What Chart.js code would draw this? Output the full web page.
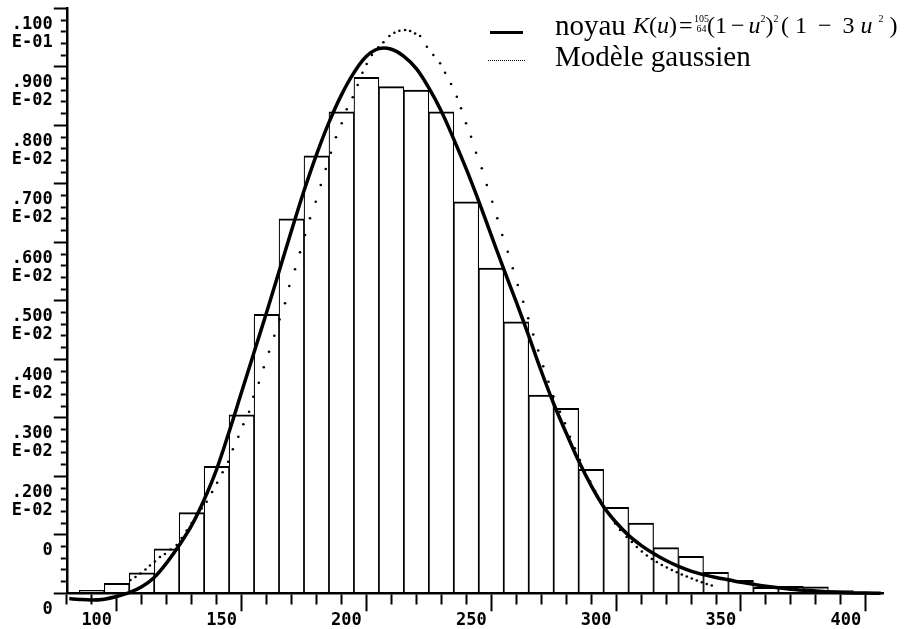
<!DOCTYPE html>
<html>
<head>
<meta charset="utf-8">
<script src="https://cdn.jsdelivr.net/npm/chart.js@4.4.1/dist/chart.umd.min.js"></script>
<style>
  body { margin: 0; background: #fff; }
  #wrap { position: relative; width: 913px; height: 629px; }
  .key { position: absolute; font-family: "Liberation Serif", "Times New Roman", serif; color: #000; white-space: nowrap; }
  .swatch { position: absolute; }
  .solid { left: 490px; top: 31px; width: 33px; height: 3px; background: #000; }
  .dotted { left: 488px; top: 60px; width: 37px; height: 0; border-top: 1.5px dotted #000; }
  #kernelKey { left: 555px; top: 11px; font-size: 29px; line-height: 29px; }
  #gaussKey { left: 555px; top: 42px; font-size: 29px; line-height: 29px; }
  .formula { top: 13px; font-size: 24px; line-height: 24px; }
  .formula sup { font-size: 10px; line-height: 0; vertical-align: 11px; }
  .formula .op { margin: 0 4px; }
  .formula.wide { letter-spacing: 6px; }
  .formula.wide .op { margin: 0 5px; }
  .frac { position: absolute; left: 694px; top: 14px; font-family: "Liberation Serif", serif; font-size: 10px; line-height: 10px; text-align: center; }
  .frac span { display: block; }
</style>
</head>
<body>
<div id="wrap">
  <canvas id="densityChart" width="913" height="629"></canvas>
  <div class="swatch solid"></div>
  <div class="key" id="kernelKey">noyau</div>
  <div class="key formula" style="left: 633px;"><i>K</i>(<i>u</i>)</div>
  <div class="key formula" style="left: 679px;">=</div>
  <div class="frac"><span>105</span><span>64</span></div>
  <div class="key formula" style="left: 707px;">(1<span class="op">−</span><i>u</i><sup>2</sup>)<sup>2</sup></div>
  <div class="key formula wide" style="left: 781px;">(1<span class="op">−</span>3<i>u</i><sup>2</sup>)</div>
  <div class="swatch dotted"></div>
  <div class="key" id="gaussKey">Modèle gaussien</div>
</div>
<script>
// histogram: bins of width 10 centred on these values
const binCenters = [90, 100, 110, 120, 130, 140, 150, 160, 170, 180, 190, 200, 210, 220, 230, 240,
                    250, 260, 270, 280, 290, 300, 310, 320, 330, 340, 350, 360, 370, 380, 390, 400];
const binDensity = [0.00005, 0.00017, 0.00035, 0.00076, 0.00138, 0.00217, 0.00305, 0.00477,
                    0.00640, 0.00748, 0.00823, 0.00882, 0.00866, 0.00860, 0.00823, 0.00669,
                    0.00556, 0.00464, 0.00339, 0.00316, 0.00212, 0.00147, 0.00120, 0.00078,
                    0.00063, 0.00036, 0.00022, 0.00010, 0.00012, 0.00011, 0.000045, 0.00002];

// kernel density estimate (solid curve)
const kernelX = [81, 85, 90, 95, 100, 105, 110, 115, 120, 125, 130, 135, 140, 145, 150, 155, 160,
                 165, 170, 175, 180, 185, 190, 195, 200, 205, 210, 215, 220, 225, 230, 235, 240,
                 245, 250, 255, 260, 265, 270, 275, 280, 285, 290, 295, 300, 305, 310, 315, 320,
                 325, 330, 335, 340, 345, 350, 360, 370, 380, 390, 400, 406];
const kernelY = [-0.00009, -0.000105, -0.000115, -0.00010, -0.000055, 0.00001, 0.00011, 0.00027,
                 0.00052, 0.00082, 0.00116, 0.00160, 0.00212, 0.00276, 0.00344, 0.00412, 0.00480,
                 0.00550, 0.00620, 0.00688, 0.00750, 0.00805, 0.00852, 0.00890, 0.00918, 0.00931,
                 0.00930, 0.00918, 0.00897, 0.00864, 0.00824, 0.00776, 0.00725, 0.00670, 0.00612,
                 0.00554, 0.00498, 0.00440, 0.00380, 0.00324, 0.00274, 0.00226, 0.00184, 0.00148,
                 0.00121, 0.00099, 0.00082, 0.00068, 0.00056, 0.00046, 0.00038, 0.00032, 0.00027,
                 0.00023, 0.00019, 0.00012, 0.00007, 0.00004, 0.000015, 0.000003, 0.0];

// gaussian model, plotted as separate dots
const gaussX = [105.5, 107.5, 109.5, 111.5, 113.3, 115.3, 117.3, 119.3, 121.6, 124.0, 126.0, 128.0,
                130.0, 132.0, 134.0, 136.0, 138.2, 140.2, 142.4, 144.6, 146.5, 148.7, 150.7, 153.0,
                154.7, 156.9, 158.9, 161.0, 163.1, 165.2, 167.4, 169.1, 171.4, 173.4, 175.4, 177.4,
                179.7, 181.7, 183.7, 185.8, 187.8, 190.1, 192.1, 194.5, 196.5, 198.4, 200.1, 202.2,
                204.8, 206.8, 209.2, 211.2, 213.2, 215.5, 217.5, 219.5, 221.5, 224.2, 226.8, 229.5,
                231.5, 233.9, 236.2, 237.9, 239.9, 241.9, 243.9, 246.2, 248.2, 250.4, 252.4, 254.4,
                256.6, 258.6, 260.6, 262.8, 264.8, 266.8, 268.8, 270.8, 272.9, 274.9, 277.5, 279.5,
                281.5, 283.5, 285.5, 287.5, 289.6, 291.6, 293.6, 295.6, 297.6, 299.6, 301.6, 304.2,
                306.3, 308.3, 310.3, 312.3, 314.3, 316.3, 318.3, 320.3, 322.3, 324.3, 326.3, 328.3,
                330.3, 332.3, 334.3, 336.3, 338.3];
const gaussY = [0.000227, 0.000279, 0.000339, 0.000407, 0.000475, 0.000544, 0.000621, 0.000672,
                0.000749, 0.000826, 0.000945, 0.001074, 0.001202, 0.001339, 0.001450, 0.001566,
                0.001732, 0.001891, 0.002068, 0.002250, 0.002462, 0.002677, 0.002889, 0.003104,
                0.003361, 0.003600, 0.003863, 0.004130, 0.004403, 0.004680, 0.004957, 0.005253,
                0.005539, 0.005829, 0.006125, 0.006410, 0.006694, 0.006980, 0.007253, 0.007532,
                0.007795, 0.008034, 0.008274, 0.008479, 0.008689, 0.008899, 0.009048, 0.009202,
                0.009333, 0.009419, 0.009527, 0.009583, 0.009617, 0.009629, 0.009612, 0.009569,
                0.009527, 0.009344, 0.009202, 0.009060, 0.008899, 0.008706, 0.008489, 0.008291,
                0.008034, 0.007805, 0.007532, 0.007265, 0.006980, 0.006694, 0.006410, 0.006125,
                0.005839, 0.005556, 0.005270, 0.004985, 0.004701, 0.004424, 0.004150, 0.003880,
                0.003617, 0.003364, 0.003104, 0.002906, 0.002677, 0.002479, 0.002279, 0.002091,
                0.001911, 0.001749, 0.001595, 0.001450, 0.001321, 0.001193, 0.001082, 0.000962,
                0.000877, 0.000792, 0.000715, 0.000646, 0.000586, 0.000535, 0.000484, 0.000441,
                0.000398, 0.000359, 0.000321, 0.000287, 0.000253, 0.000219, 0.000188, 0.000159,
                0.000133];

// axis labels
const xTickValues = [100, 150, 200, 250, 300, 350, 400];
const yTickLabels = [
  ['0', ''], ['0', ''], ['.200', 'E-02'], ['.300', 'E-02'], ['.400', 'E-02'], ['.500', 'E-02'],
  ['.600', 'E-02'], ['.700', 'E-02'], ['.800', 'E-02'], ['.900', 'E-02'], ['.100', 'E-01']
];

const toPoints = (xs, ys) => xs.map((x, i) => ({ x: x, y: ys[i] }));
const isMajorX = v => xTickValues.includes(v);
const isMajorY = v => Math.round(v * 10000) % 10 === 0;
const noScalePadding = s => { s.paddingTop = 0; s.paddingBottom = 0; s.paddingLeft = 0; s.paddingRight = 0; };

const ctx = document.getElementById('densityChart').getContext('2d');
new Chart(ctx, {
  type: 'bar',
  data: {
    datasets: [{
      type: 'line',
      label: 'noyau',
      data: toPoints(kernelX, kernelY),
      borderColor: '#000',
      borderWidth: 3.5,
      pointRadius: 0,
      tension: 0.35,
      clip: false,
      order: 0
    }, {
      type: 'line',
      label: 'Modèle gaussien',
      data: toPoints(gaussX, gaussY),
      showLine: false,
      pointRadius: 1.3,
      pointBorderWidth: 0,
      pointBackgroundColor: '#000',
      order: 1
    }, {
      type: 'bar',
      label: 'histogramme',
      data: toPoints(binCenters, binDensity),
      backgroundColor: '#fff',
      borderColor: '#000',
      borderWidth: { top: 2, left: 1.2, right: 1.2, bottom: 0 },
      borderSkipped: false,
      barPercentage: 1,
      categoryPercentage: 1,
      order: 2
    }]
  },
  options: {
    responsive: false,
    animation: false,
    devicePixelRatio: 1,
    events: [],
    layout: { padding: { left: 0, right: 29.7, top: 8.3, bottom: 0 } },
    plugins: { legend: { display: false }, tooltip: { enabled: false } },
    scales: {
      x: {
        type: 'linear',
        min: 80,
        max: 407,
        offset: false,
        afterBuildTicks: s => { s.ticks = s.ticks.filter(t => t.value % 10 === 0); },
        afterFit: s => { s.height = 35.7; noScalePadding(s); },
        border: { color: '#000', width: 2.5, z: 1 },
        grid: {
          offset: false,
          drawOnChartArea: false,
          tickLength: 18,
          tickWidth: 2,
          tickColor: '#000',
          tickBorderDash: c => (c.tick && isMajorX(c.tick.value)) ? [] : [10, 40]
        },
        ticks: {
          stepSize: 10,
          includeBounds: false,
          autoSkip: false,
          maxRotation: 0,
          padding: 1,
          labelOffset: -20,
          color: '#000',
          font: { family: 'DejaVu Sans Mono', size: 17, weight: 'bold', lineHeight: 1 },
          callback: v => isMajorX(v) ? String(v) : ''
        }
      },
      y: {
        min: 0,
        max: 0.01,
        afterFit: s => { s.width = 66.8; noScalePadding(s); },
        border: { color: '#000', width: 2.5, z: 1 },
        grid: {
          drawOnChartArea: false,
          tickLength: 13,
          tickWidth: 2,
          tickColor: '#000',
          tickBorderDash: c => (c.tick && isMajorY(c.tick.value)) ? [] : [0, 7, 5, 40]
        },
        ticks: {
          stepSize: 0.0002,
          autoSkip: false,
          padding: 1,
          labelOffset: 25,
          color: '#000',
          font: { family: 'DejaVu Sans Mono', size: 17, weight: 'bold', lineHeight: '18px' },
          callback: v => isMajorY(v) ? yTickLabels[Math.round(v * 1000)] : ''
        }
      }
    }
  }
});
</script>
</body>
</html>
